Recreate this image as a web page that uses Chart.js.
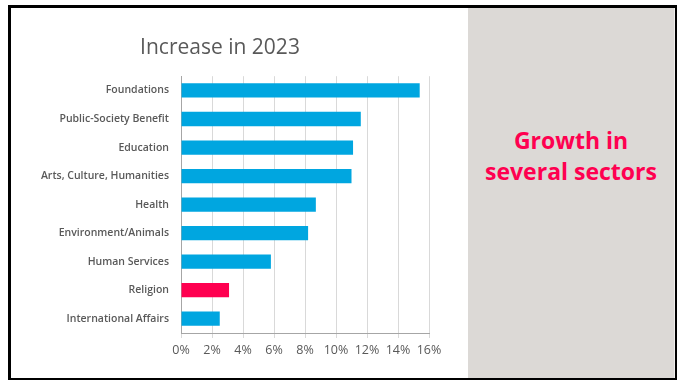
<!DOCTYPE html>
<html>
<head>
<meta charset="utf-8">
<script src="https://cdn.jsdelivr.net/npm/chart.js@4"></script>
<style>
  html, body { margin: 0; padding: 0; background: #fff; }
  body { width: 683px; height: 380px; position: relative; overflow: hidden; }
  .frame {
    position: absolute; left: 8px; top: 5px; width: 663px; height: 370px;
    border: 3px solid #000; border-bottom-width: 2px; background: #fff;
  }
  .chartBox { position: absolute; left: 0; top: 0; width: 457px; height: 370px; }
  .side {
    position: absolute; left: 457px; top: 0; width: 206px; height: 370px;
    background: #dcd9d6; border-right: 1px solid #f0eeec;
  }
  .side p {
    position: absolute; left: 0; right: 0; top: 117px; margin: 0;
    text-align: center; color: #ff0050;
    font-family: "Open Sans", sans-serif; font-weight: 700; font-size: 23px; line-height: 31px;
  }
</style>
</head>
<body>
<div class="frame">
  <div class="chartBox"><canvas id="growthChart" width="457" height="370"></canvas></div>
  <div class="side"><p>Growth in<br>several sectors</p></div>
</div>
<script>
// 2023年の分野別増加率
const sectors = [
  'Foundations',
  'Public-Society Benefit',
  'Education',
  'Arts, Culture, Humanities',
  'Health',
  'Environment/Animals',
  'Human Services',
  'Religion',
  'International Affairs'
];
const increasePct = [15.4, 11.6, 11.1, 11.0, 8.7, 8.2, 5.8, 3.1, 2.5];
const highlightSector = 'Religion';

const blue = '#00a6e0';
const red = '#ff0050';
const gray = '#595959';

const barColors = sectors.map(s => s === highlightSector ? red : blue);

const ctx = document.getElementById('growthChart').getContext('2d');
new Chart(ctx, {
  type: 'bar',
  data: {
    labels: sectors,
    datasets: [{
      data: increasePct,
      backgroundColor: barColors,
      borderWidth: 0,
      categoryPercentage: 1,
      barPercentage: 0.5
    }]
  },
  options: {
    indexAxis: 'y',
    responsive: false,
    animation: false,
    layout: { padding: { left: 0, right: 39, top: 0, bottom: 15 } },
    plugins: {
      legend: { display: false },
      tooltip: { enabled: false },
      title: {
        display: true,
        text: 'Increase in 2023',
        color: gray,
        font: { family: 'Open Sans', size: 21, weight: '500', lineHeight: 1.2 },
        padding: { top: 27, bottom: 16 }
      }
    },
    scales: {
      x: {
        min: 0,
        max: 16,
        ticks: {
          stepSize: 2,
          color: gray,
          padding: 5,
          font: { family: 'Open Sans', size: 12.5 },
          callback: v => v + '%'
        },
        grid: { color: '#d9d9d9', tickLength: 5, lineWidth: 1 },
        border: { color: '#a6a6a6', width: 1 }
      },
      y: {
        afterFit: scale => { scale.width = 170; },
        ticks: {
          color: gray,
          padding: 12,
          font: { family: 'Open Sans', size: 10.5, weight: '600' }
        },
        grid: { display: false, drawTicks: false },
        border: { color: '#a6a6a6', width: 1 }
      }
    }
  }
});
</script>
</body>
</html>
